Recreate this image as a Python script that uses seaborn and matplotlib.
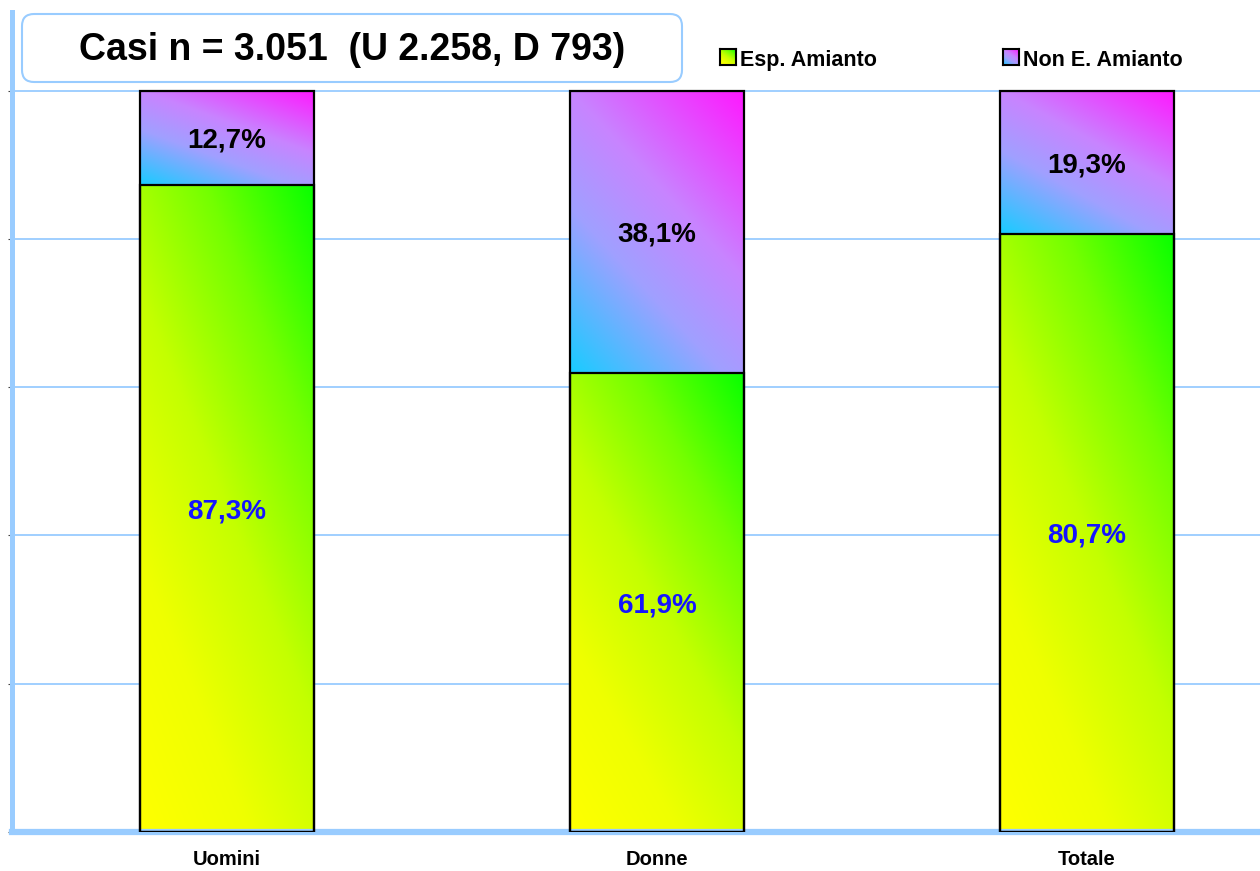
import numpy as np
import pandas as pd
import matplotlib
matplotlib.use('Agg')
import matplotlib.pyplot as plt
import seaborn as sns
from matplotlib.colors import LinearSegmentedColormap
from matplotlib.patches import FancyBboxPatch
from matplotlib.transforms import IdentityTransform

# dati
categorie = ['Uomini', 'Donne', 'Totale']
esp_amianto = [87.3, 61.9, 80.7]
non_esp_amianto = [12.7, 38.1, 19.3]
serie = ['Esp. Amianto', 'Non E. Amianto']
titolo = 'Casi n = 3.051  (U 2.258, D 793)'

df = pd.DataFrame({'categoria': categorie, 'esp': esp_amianto, 'non_esp': non_esp_amianto})
df['totale'] = df['esp'] + df['non_esp']

# sfumature come nell'originale (giallo -> verde, azzurro -> magenta)
cmap_esp = LinearSegmentedColormap.from_list(
    'esp', ['#ffff00', '#efff00', '#c4ff00', '#74ff00', '#08ff00'])
cmap_non = LinearSegmentedColormap.from_list(
    'non', [(0, '#18ccff'), (0.35, '#a0a0ff'), (0.6, '#c884ff'), (1, '#ff18ff')])
blu_chiaro = '#99ccff'


def gradiente(n=200):
    u = np.linspace(0, 1, n)
    uu, vv = np.meshgrid(u, u)
    return 0.4 * uu + 0.6 * vv


sns.set_style('white')
plt.rcParams['font.family'] = ['Liberation Sans', 'DejaVu Sans']
plt.rcParams['text.color'] = 'black'
plt.rcParams['xtick.labelcolor'] = 'black'

fig = plt.figure(figsize=(12.6, 8.71), dpi=100)
ax = fig.add_axes([12 / 1260, 39 / 871, 1290 / 1260, 820 / 871])

# barre: prima il totale (parte superiore), poi l'esposto sopra
sns.barplot(data=df, x='categoria', y='totale', width=0.405, color='white',
            errorbar=None, ax=ax)
n_tot = len(ax.patches)
sns.barplot(data=df, x='categoria', y='esp', width=0.405, color='white',
            errorbar=None, ax=ax)

grad = gradiente()
for i, p in enumerate(list(ax.patches)):
    x0, w, h = p.get_x(), p.get_width(), p.get_height()
    if i < n_tot:
        y0, y1, cmap = df['esp'][i], h, cmap_non
        val, col = df['non_esp'][i], 'black'
    else:
        y0, y1, cmap = 0, h, cmap_esp
        val, col = df['esp'][i - n_tot], '#1414ff'
    im = ax.imshow(grad, cmap=cmap, origin='lower', extent=[x0, x0 + w, y0, y1],
                   aspect='auto', interpolation='bilinear', zorder=2)
    im.set_clip_path(p)
    p.set_facecolor('none')
    p.set_edgecolor('black')
    p.set_linewidth(1.6)
    p.set_zorder(3)
    ax.text(x0 + w / 2, (y0 + y1) / 2, f'{val:.1f}%'.replace('.', ','),
            ha='center', va='center_baseline', fontsize=20, weight='bold',
            color=col, zorder=4)

ax.set_xlim(-0.5, 2.5)
ax.set_ylim(0, 110.6)
ax.set_yticks([0, 20, 40, 60, 80, 100])
ax.yaxis.grid(True, color=blu_chiaro, lw=1.3)
ax.set_axisbelow(True)
ax.set_xlabel('')
ax.set_ylabel('')

ax.set_xticks(range(len(categorie)))
ax.set_xticklabels(categorie)
ax.set_xticks([-0.5, 0.5, 1.5], minor=True)
ax.tick_params(axis='x', which='major', length=0, pad=13, labelsize=14.5)
ax.tick_params(axis='x', which='minor', length=6, width=4, color=blu_chiaro, direction='out')
for t in ax.get_xticklabels():
    t.set_fontweight('bold')
ax.tick_params(axis='y', left=True, length=3, width=0.8, color='#444444', labelleft=False)

for s in ['top', 'right']:
    ax.spines[s].set_visible(False)
ax.spines['left'].set_color(blu_chiaro)
ax.spines['left'].set_linewidth(3.6)
ax.spines['bottom'].set_color(blu_chiaro)
ax.spines['bottom'].set_linewidth(4.5)

# riquadro del titolo
box = FancyBboxPatch((22, 871 - 82), 660, 68, boxstyle='round,pad=0,rounding_size=12',
                     transform=IdentityTransform(), facecolor='white',
                     edgecolor=blu_chiaro, lw=1.5)
fig.add_artist(box)
fig.text(352 / 1260, 1 - 50 / 871, titolo, ha='center', va='center',
         fontsize=27, weight='bold')

# legenda con quadratini sfumati
leg_x = [720, 1003]
for nome, cm, xq in zip(serie, [cmap_esp, cmap_non], leg_x):
    qa = fig.add_axes([xq / 1260, 1 - 65 / 871, 16 / 1260, 16 / 871])
    qa.imshow(grad, cmap=cm, origin='lower', aspect='auto', interpolation='bilinear')
    qa.set_xticks([])
    qa.set_yticks([])
    for s in qa.spines.values():
        s.set_visible(True)
        s.set_color('black')
        s.set_linewidth(1.5)
    fig.text((xq + 20) / 1260, 1 - 58 / 871, nome, ha='left', va='center_baseline',
             fontsize=15.5, weight='bold')

fig.savefig('out.png', dpi=100)
